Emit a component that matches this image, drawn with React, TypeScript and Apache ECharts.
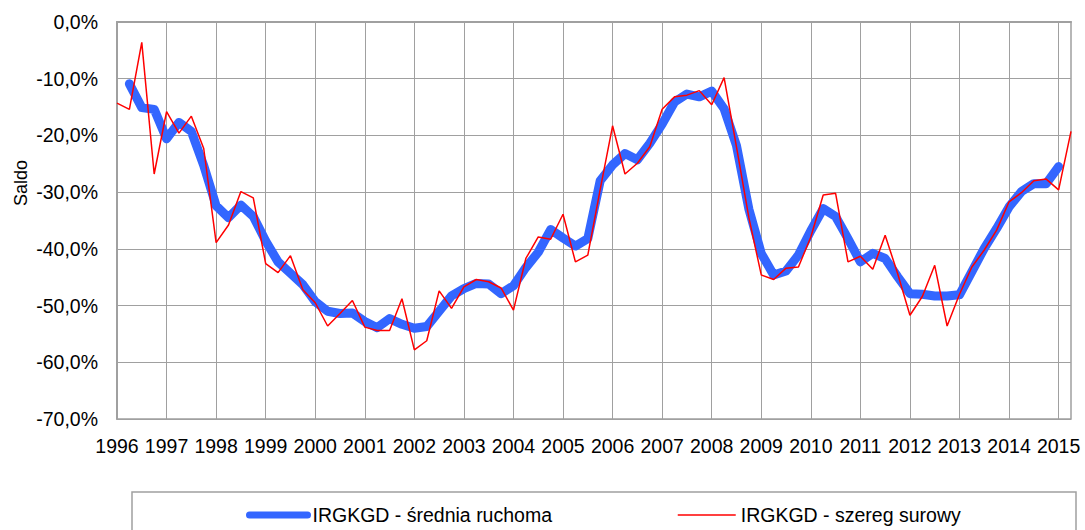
import React, { useEffect, useRef } from "react";
import * as echarts from "echarts";

const years = [
  "1996", "1997", "1998", "1999", "2000", "2001", "2002", "2003", "2004", "2005",
  "2006", "2007", "2008", "2009", "2010", "2011", "2012", "2013", "2014", "2015",
];
const quarters = ["Q1", "Q2", "Q3", "Q4"];
// 1996Q1 .. 2015Q2 (78 quarters)
const categories: string[] = [];
years.forEach((y) => quarters.forEach((q) => categories.push(y + " " + q)));
categories.length = 78;

const rawSeries = [
  -14.3, -15.4, -3.6, -26.8, -15.8, -19.6, -16.6, -22.3, -38.9, -35.8,
  -29.9, -31.0, -42.6, -44.2, -41.2, -47.2, -49.5, -53.6, -51.4, -49.1,
  -53.8, -54.4, -54.4, -48.8, -57.8, -56.2, -47.4, -50.5, -46.7, -45.4,
  -45.8, -46.9, -50.8, -41.7, -37.9, -38.3, -33.9, -42.3, -41.1, -29.5,
  -18.3, -26.8, -24.9, -22.0, -15.4, -13.2, -12.9, -12.1, -14.6, -9.8,
  -22.0, -34.5, -44.6, -45.4, -43.4, -43.2, -37.9, -30.5, -30.2, -42.3,
  -41.3, -43.6, -37.6, -44.3, -51.7, -48.4, -42.9, -53.6, -48.0, -43.2,
  -40.2, -36.7, -31.7, -30.1, -28.0, -27.7, -29.6, -19.3,
];

const movingAvg = [
  null, -10.9, -15.1, -15.4, -20.6, -17.7, -19.3, -25.3, -32.4, -34.5,
  -32.3, -34.3, -38.6, -42.3, -44.3, -46.3, -49.3, -51.0, -51.4, -51.3,
  -52.8, -53.9, -52.3, -53.3, -54.0, -53.7, -51.0, -48.3, -47.0, -46.1,
  -46.2, -47.9, -46.5, -43.3, -40.6, -36.6, -38.1, -39.5, -38.2, -28.0,
  -25.2, -23.2, -24.3, -21.4, -18.0, -14.1, -12.7, -13.2, -12.2, -15.3,
  -21.8, -33.0, -40.8, -44.6, -43.9, -41.1, -36.8, -32.9, -34.3, -38.2,
  -42.3, -40.8, -41.7, -44.9, -47.9, -48.0, -48.3, -48.3, -48.1, -44.0,
  -39.9, -36.4, -32.6, -29.9, -28.5, -28.5, -25.5, null,
];

const seriesNames = ["IRGKGD - średnia ruchoma", "IRGKGD - szereg surowy"];
const yAxisName = "Saldo";

const FONT = "Liberation Sans, Arial, sans-serif";
const GRID = "#A0A0A0";
const BLUE = "#3366FF";
const RED = "#FF0000";

export default function App() {
  const ref = useRef<HTMLDivElement>(null);
  useEffect(() => {
    if (!ref.current) return;
    const chart = echarts.init(ref.current, null, { renderer: "svg" });
    chart.setOption({
      animation: false,
      backgroundColor: "#ffffff",
      textStyle: { fontFamily: FONT },
      grid: {
        left: 117,
        right: 14,
        top: 22,
        bottom: 111,
        show: true,
        borderColor: GRID,
        borderWidth: 1.5,
      },
      legend: {
        left: 246,
        top: 505,
        padding: 0,
        itemWidth: 58,
        itemHeight: 14,
        itemGap: 125,
        itemStyle: { opacity: 0 },
        textStyle: { fontFamily: FONT, fontSize: 19.5, color: "#000" },
        data: [
          { name: seriesNames[0], lineStyle: { width: 7, cap: "round", color: BLUE } },
          { name: seriesNames[1], lineStyle: { width: 1.5, color: RED } },
        ],
      },
      graphic: [
        {
          type: "rect",
          shape: { x: 132, y: 492, width: 944, height: 60 },
          style: { fill: "none", stroke: GRID, lineWidth: 1.5 },
          silent: true,
        },
        {
          type: "text",
          x: 21,
          y: 183,
          rotation: Math.PI / 2,
          style: {
            text: yAxisName,
            fontFamily: FONT,
            fontSize: 18,
            fill: "#000",
            align: "center",
            verticalAlign: "middle",
          },
        },
      ],
      xAxis: {
        type: "category",
        data: categories,
        boundaryGap: false,
        axisLine: { lineStyle: { color: GRID, width: 2 } },
        axisTick: { show: false },
        axisLabel: {
          interval: 3,
          margin: 17,
          fontSize: 19.5,
          fontFamily: FONT,
          color: "#000",
          formatter: (v: string) => v.split(" ")[0],
        },
        splitLine: { show: true, interval: 3, lineStyle: { color: GRID, width: 1 } },
      },
      yAxis: {
        type: "value",
        min: -70,
        max: 0,
        interval: 10,
        axisLine: { show: true, lineStyle: { color: GRID, width: 2 } },
        axisTick: { show: false },
        axisLabel: {
          margin: 19,
          fontSize: 19.5,
          fontFamily: FONT,
          color: "#000",
          formatter: (v: number) => v.toFixed(1).replace(".", ",") + "%",
        },
        splitLine: { show: true, lineStyle: { color: GRID, width: 1 } },
      },
      series: [
        {
          name: seriesNames[0],
          type: "line",
          data: movingAvg,
          symbol: "none",
          connectNulls: false,
          lineStyle: { color: BLUE, width: 9, cap: "round", join: "round" },
          itemStyle: { color: BLUE },
          z: 2,
        },
        {
          name: seriesNames[1],
          type: "line",
          data: rawSeries,
          symbol: "none",
          lineStyle: { color: RED, width: 1.5 },
          itemStyle: { color: RED },
          z: 3,
        },
      ],
    });
    return () => chart.dispose();
  }, []);
  return <div ref={ref} style={{ width: 1085, height: 530, position: "absolute", left: 0, top: 0 }} />;
}
